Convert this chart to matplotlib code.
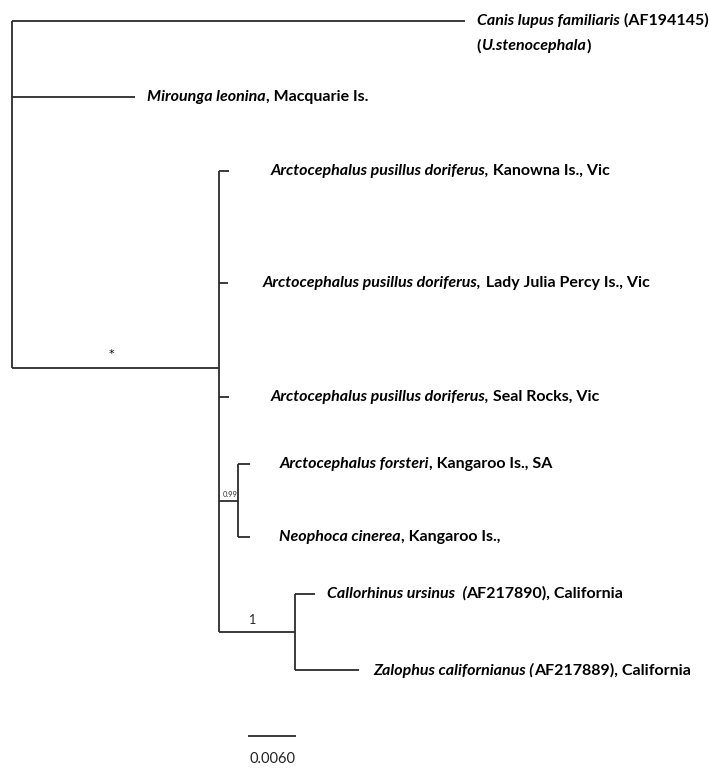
import matplotlib
matplotlib.use("Agg")
import matplotlib.pyplot as plt

plt.rcParams['font.family'] = ['Lato', 'DejaVu Sans']

# internal nodes: name -> (parent, branch length, row)
nodes = {
    "root": (None, 0.0, 195),
    "ingroup": ("root", 0.0259, 368),
    "forsteri_neophoca": ("ingroup", 0.0024, 501),
    "fur_seals": ("ingroup", 0.0095, 632),
}

# tips: parent, branch length, row, label pieces (text, italic)
tip_parent = ["root", "root", "ingroup", "ingroup", "ingroup",
              "forsteri_neophoca", "forsteri_neophoca", "fur_seals", "fur_seals"]
tip_len = [0.0566, 0.0154, 0.00125, 0.0011, 0.00125, 0.0015, 0.0015, 0.0025, 0.0080]
tip_row = [21, 97, 171, 283, 397, 464, 537, 594, 670]
tip_gap = [12, 12, 41, 35, 41, 29, 29, 12, 14]   # gap between branch end and label (px)
tip_labels = [
    [("Canis lupus familiaris", True), (" (AF194145)", False)],
    [("Mirounga leonina", True), (", Macquarie Is.", False)],
    [("Arctocephalus pusillus doriferus,", True), (" Kanowna Is., Vic", False)],
    [("Arctocephalus pusillus doriferus,", True), (" Lady Julia Percy Is., Vic", False)],
    [("Arctocephalus pusillus doriferus,", True), (" Seal Rocks, Vic", False)],
    [("Arctocephalus forsteri", True), (", Kangaroo Is., SA", False)],
    [("Neophoca cinerea", True), (", Kangaroo Is.,", False)],
    [("Callorhinus ursinus ", True), (" (", True), ("AF217890), California", False)],
    [("Zalophus californianus (", True), ("AF217889), California", False)],
]
canis_line2 = [("(", False), ("U.stenocephala", True), (")", False)]

support = {"root_ingroup": "*", "forsteri_neophoca": "0.99", "fur_seals": "1"}
scale_len = 0.0060
px_per_unit = 8000.0

W, H = 709, 771
fig = plt.figure(figsize=(W / 100, H / 100), dpi=100)
ax = fig.add_axes([0, 0, 1, 1])
ax.set_xlim(-12 / px_per_unit, (W - 12) / px_per_unit)
ax.set_ylim(H, 0)
ax.axis("off")

lc = "#2b2b2b"
lw = 1.3


def node_x(name):
    parent, blen, _ = nodes[name]
    return 0.0 if parent is None else node_x(parent) + blen


# children rows for vertical lines
children = {k: [] for k in nodes}
for k, (p, _, r) in nodes.items():
    if p is not None:
        children[p].append(r)
for p, r in zip(tip_parent, tip_row):
    children[p].append(r)

for k, (p, blen, r) in nodes.items():
    x = node_x(k)
    rows = children[k] + [r]
    ax.plot([x, x], [min(rows), max(rows)], color=lc, lw=lw, solid_capstyle="butt")
    if p is not None:
        ax.plot([node_x(p), x], [r, r], color=lc, lw=lw, solid_capstyle="butt")

fs = 11.5


def write_pieces(x0, y, pieces):
    prev = None
    for text, ital in pieces:
        style = "italic" if ital else "normal"
        if prev is None:
            prev = ax.annotate(text, xy=(x0, y), xycoords="data", ha="left", va="center",
                               fontsize=fs, fontweight="bold", fontstyle=style, color="black")
        else:
            prev = ax.annotate(text, xy=(1, 0), xycoords=prev, ha="left", va="bottom",
                               fontsize=fs, fontweight="bold", fontstyle=style, color="black")


for p, blen, r, gap, pieces in zip(tip_parent, tip_len, tip_row, tip_gap, tip_labels):
    x0 = node_x(p)
    x1 = x0 + blen
    ax.plot([x0, x1], [r, r], color=lc, lw=lw, solid_capstyle="butt")
    write_pieces(x1 + gap / px_per_unit, r, pieces)

# second line of the outgroup label
write_pieces(tip_len[0] + tip_gap[0] / px_per_unit, tip_row[0] + 25, canis_line2)

# support values
ax.text(node_x("ingroup") * 0.48, nodes["ingroup"][2] - 14, support["root_ingroup"],
        ha="center", va="center", fontsize=8, family="DejaVu Sans", color="black")
fx = node_x("forsteri_neophoca")
ax.text(fx - 0.0001, nodes["forsteri_neophoca"][2] - 3, support["forsteri_neophoca"],
        ha="right", va="bottom", fontsize=5.5, color="#333333")
ux = node_x("fur_seals")
ax.text((node_x("ingroup") + ux) / 2 - 0.0006, nodes["fur_seals"][2] - 6, support["fur_seals"],
        ha="center", va="bottom", fontsize=9, color="#222222")

# scale bar
sx = 0.0295
ax.plot([sx, sx + scale_len], [736, 736], color=lc, lw=lw, solid_capstyle="butt")
ax.text(sx + scale_len / 2, 752, f"{scale_len:.4f}", ha="center", va="top",
        fontsize=10.5, color="#222222")

fig.savefig("out.png", dpi=100)
